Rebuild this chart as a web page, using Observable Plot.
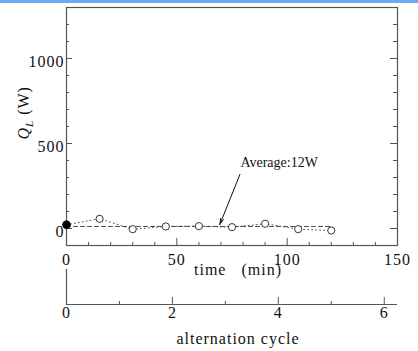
<!DOCTYPE html>
<html><head><meta charset="utf-8">
<script src="https://cdn.jsdelivr.net/npm/d3@7"></script>
<script src="https://cdn.jsdelivr.net/npm/@observablehq/plot@0.6"></script>
<style>
html,body{margin:0;padding:0;background:#fff;}
#wrap{position:relative;width:418px;height:351px;overflow:hidden;background:#fff}
#bar{position:absolute;left:0;top:0;width:418px;height:3px;background:#6ea8f3}
#main{position:absolute;left:0;top:3px}
#cyc{position:absolute;left:0;top:265px}
svg{display:block}
</style></head><body>
<div id="wrap"><div id="bar"></div><div id="cyc"></div><div id="main"></div></div>
<script>
// ---- data ----
const time = [0, 15, 30, 45, 60, 75, 90, 105, 120];
const heatQL = [22, 57, -4, 12, 14, 8, 28, -4, -12];
const averageQL = 12;
const averageSpan = [0, 120];
const timeTicksMajor = [0, 50, 100, 150];
const timeTicksInner = [50, 100];
const timeTicksMinor = [10, 20, 30, 40, 60, 70, 80, 90, 110, 120, 130, 140];
const qTicksMajor = [0, 500, 1000];
const qTicksMinor = [100, 200, 300, 400, 600, 700, 800, 900, 1100, 1200];
const cycleTicksMajor = [0, 2, 4, 6];
const cycleTicksMinor = [1, 3, 5];
const minutesPerCycle = 24;
const annotationText = "Average:12W";
const annotationArrow = [{x1: 78.6, y1: 318, x2: 69.5, y2: 24}];
const annotationLabel = [{x: 78.8, y: 388, text: annotationText}];
const yTitle = "QL (W)";
const xTitle = "time\u00a0\u00a0\u00a0(min)";
const cycleTitle = "alternation cycle";

const points = time.map((t, i) => ({t, q: heatQL[i]}));
const avgLine = averageSpan.map(t => ({t, q: averageQL}));

// ---- layout ----
const W = 418, H = 277, mL = 66, mR = 21, mT = 4, mB = 35;
const fW = W - mL - mR, fH = H - mT - mB;
const ink = "#111", lineCol = "#555";
const font = {fontFamily: "'Liberation Serif', 'DejaVu Serif', serif", fontSize: "16px", color: ink, background: "transparent", overflow: "visible", letterSpacing: "1px"};

const main = Plot.plot({
  width: W, height: H, marginLeft: mL, marginRight: mR, marginTop: mT, marginBottom: mB,
  style: font,
  x: {domain: [0, 150], axis: null},
  y: {domain: [-100, 1300], axis: null},
  marks: [
    Plot.frame({stroke: lineCol, strokeWidth: 1.2}),
    Plot.tickY(qTicksMajor, {y: d => d, insetRight: fW - 6, stroke: lineCol}),
    Plot.tickY(qTicksMinor, {y: d => d, insetRight: fW - 3, stroke: lineCol}),
    Plot.tickY(qTicksMajor, {y: d => d, insetLeft: fW - 7, stroke: lineCol}),
    Plot.tickY(qTicksMinor, {y: d => d, insetLeft: fW - 4, stroke: lineCol}),
    Plot.tickX(timeTicksInner, {x: d => d, insetTop: fH - 7, stroke: lineCol}),
    Plot.tickX(timeTicksMinor, {x: d => d, insetTop: fH - 3, stroke: lineCol}),
    Plot.text(qTicksMajor, {y: d => d, text: d => String(d), frameAnchor: "left", textAnchor: "end", dx: -2, dy: 3, fill: ink}),
    Plot.text(timeTicksMajor, {x: d => d, text: d => String(d), frameAnchor: "bottom", lineAnchor: "middle", dy: 14, fill: ink}),
    Plot.text([xTitle], {frameAnchor: "bottom", lineAnchor: "middle", dy: 24, dx: 6, fill: ink}),
    Plot.text([yTitle], {frameAnchor: "left", rotate: -90, lineAnchor: "middle", dx: -43, dy: 13, fill: ink}),
    Plot.line(avgLine, {x: "t", y: "q", stroke: "#333", strokeWidth: 0.9, strokeDasharray: "4,3"}),
    Plot.line(points, {x: "t", y: "q", stroke: "#444", strokeWidth: 0.9, strokeDasharray: "1,3"}),
    Plot.dot(points.slice(1), {x: "t", y: "q", r: 3.6, stroke: "#222", strokeWidth: 0.9, fill: "white"}),
    Plot.dot(points.slice(0, 1), {x: "t", y: "q", r: 3.6, fill: "#000", stroke: "#000"}),
    Plot.arrow(annotationArrow, {x1: "x1", y1: "y1", x2: "x2", y2: "y2", stroke: ink, strokeWidth: 1, headLength: 9, headAngle: 28}),
    Plot.text(annotationLabel, {x: "x", y: "y", text: "text", textAnchor: "start", lineAnchor: "middle", fontSize: 14, fill: ink})
  ]
});

// subscript / italic y title
d3.select(main).selectAll("text").each(function() {
  const t = d3.select(this);
  if (this.textContent === yTitle) {
    t.text(null);
    t.append("tspan").attr("font-style", "italic").text("Q");
    t.append("tspan").attr("font-style", "italic").attr("font-size", "11px").attr("dy", "4").text("L");
    t.append("tspan").attr("dy", "-4").text("\u00a0(W)");
  }
  if (this.textContent === annotationText) t.style("letter-spacing", "0px");
});
document.getElementById("main").appendChild(main);

// ---- cycle axis ----
const cH = 86, cT = 4, cB = 47, cFH = cH - cT - cB;
const cyc = Plot.plot({
  width: W, height: cH, marginLeft: mL, marginRight: mR, marginTop: cT, marginBottom: cB,
  style: font,
  x: {domain: [0, 150 / minutesPerCycle], axis: null},
  y: {domain: [0, 1], axis: null},
  marks: [
    Plot.ruleX([0], {stroke: lineCol, strokeWidth: 1.2}),
    Plot.ruleY([0], {stroke: lineCol, strokeWidth: 1.2}),
    Plot.tickX(cycleTicksMajor.slice(1), {x: d => d, insetTop: cFH - 7, stroke: lineCol}),
    Plot.tickX(cycleTicksMinor, {x: d => d, insetTop: cFH - 3, stroke: lineCol}),
    Plot.text(cycleTicksMajor, {x: d => d, text: d => String(d), frameAnchor: "bottom", lineAnchor: "middle", dy: 8, fill: ink}),
    Plot.text([cycleTitle], {frameAnchor: "bottom", lineAnchor: "middle", dy: 34, dx: 6, fill: ink})
  ]
});
document.getElementById("cyc").appendChild(cyc);
</script>
</body></html>
